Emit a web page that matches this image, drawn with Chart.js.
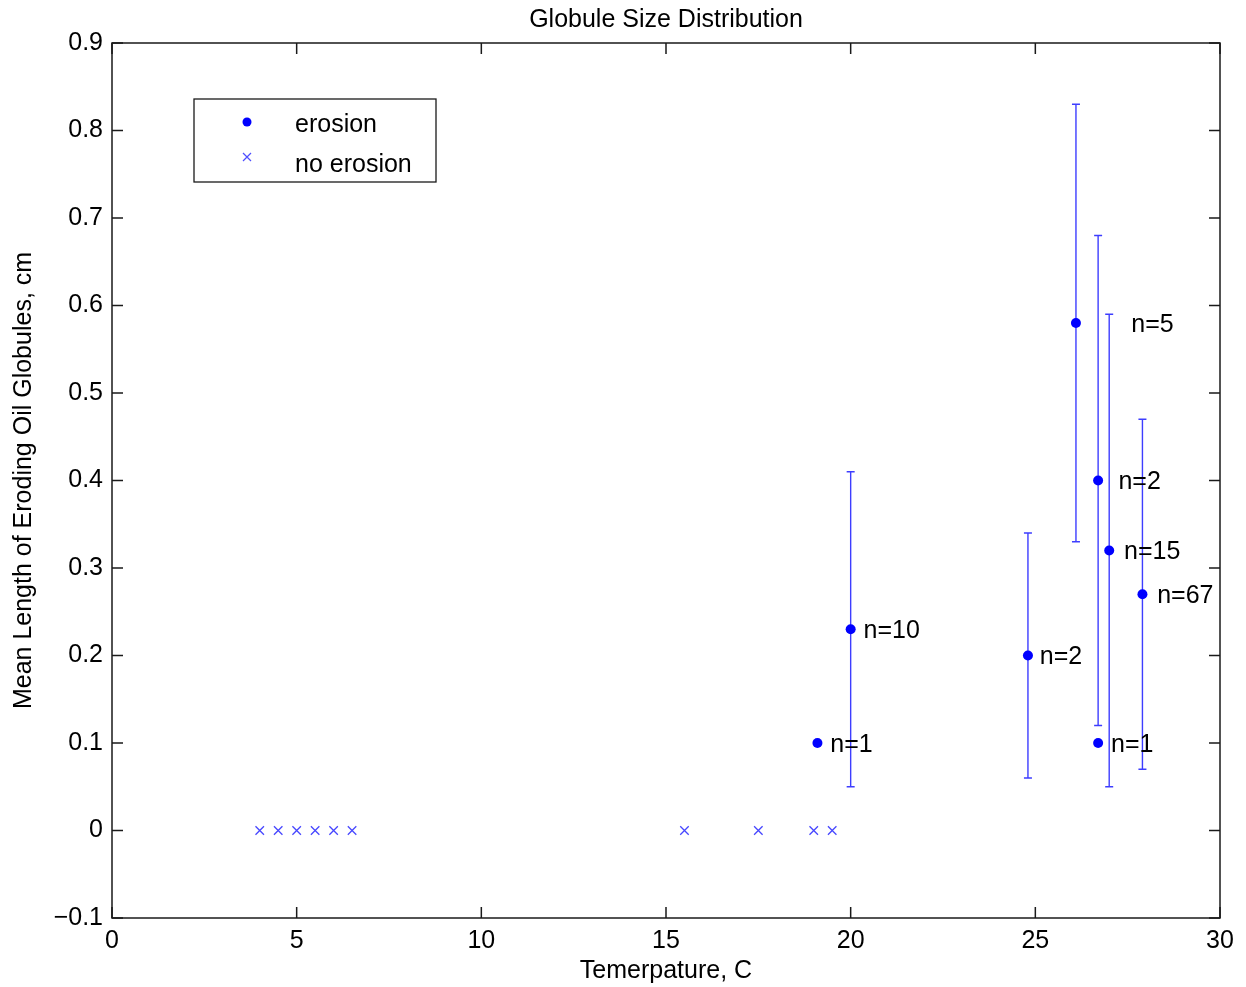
<!DOCTYPE html>
<html>
<head>
<meta charset="utf-8">
<script src="https://cdn.jsdelivr.net/npm/chart.js@4/dist/chart.umd.min.js"></script>
<style>
  html, body { margin: 0; padding: 0; background: #fff; }
  #wrap { width: 1246px; height: 987px; }
</style>
</head>
<body>
<div id="wrap"><canvas id="c" width="1246" height="987"></canvas></div>
<script>
// Eroding globules: temperature (C), mean length (cm), error-bar limits and sample counts
const erosionTemp  = [19.1, 20.0, 24.8, 26.1, 26.7, 26.7, 27.0, 27.9];
const erosionMean  = [0.10, 0.23, 0.20, 0.58, 0.40, 0.10, 0.32, 0.27];
const erosionUpper = [null, 0.41, 0.34, 0.83, 0.68, null, 0.59, 0.47];
const erosionLower = [null, 0.05, 0.06, 0.33, 0.12, null, 0.05, 0.07];
const sampleCounts = [1, 10, 2, 5, 2, 1, 15, 67];

// Runs without erosion
const noErosionTemp = [4.0, 4.5, 5.0, 5.5, 6.0, 6.5, 15.5, 17.5, 19.0, 19.5];
const noErosionMean = [0, 0, 0, 0, 0, 0, 0, 0, 0, 0];

// Axis tick values
const xTicks = [0, 5, 10, 15, 20, 25, 30];
const yTicks = [-0.1, 0, 0.1, 0.2, 0.3, 0.4, 0.5, 0.6, 0.7, 0.8, 0.9];

// Temperature at which each "n=" note starts
const noteTemp = [19.45, 20.35, 25.12, 27.6, 27.25, 27.05, 27.4, 28.3];

const FONT = "'Liberation Sans', Arial, Helvetica, sans-serif";
const FS = 25;
const BLUE = '#0000ff';

const erosionPoints = erosionTemp.map((t, i) => ({ x: t, y: erosionMean[i] }));
const noErosionPoints = noErosionTemp.map((t, i) => ({ x: t, y: noErosionMean[i] }));

function fmtTick(v) {
  const r = Math.round(v * 10) / 10;
  if (r === 0) return '0';
  const s = Math.abs(r) % 1 === 0 ? String(Math.abs(r)) : Math.abs(r).toFixed(1);
  return (r < 0 ? '\u2212' : '') + s;
}

// Error bars under the markers
const errorBars = {
  id: 'errorBars',
  beforeDatasetsDraw(chart) {
    const { ctx, scales: { x, y } } = chart;
    ctx.save();
    ctx.strokeStyle = 'rgba(40,40,255,0.9)';
    ctx.lineWidth = 1.4;
    erosionTemp.forEach((t, i) => {
      if (erosionUpper[i] == null) return;
      const px = x.getPixelForValue(t);
      const top = y.getPixelForValue(erosionUpper[i]);
      const bot = y.getPixelForValue(erosionLower[i]);
      ctx.beginPath();
      ctx.moveTo(px, top); ctx.lineTo(px, bot);
      ctx.moveTo(px - 4, top); ctx.lineTo(px + 4, top);
      ctx.moveTo(px - 4, bot); ctx.lineTo(px + 4, bot);
      ctx.stroke();
    });
    ctx.restore();
  }
};

// Axes box with inward ticks, sample-count notes and legend
const frame = {
  id: 'frame',
  afterDatasetsDraw(chart) {
    const { ctx, chartArea: a, scales: { x, y } } = chart;
    ctx.save();
    // n= notes
    ctx.fillStyle = '#000';
    ctx.font = FS + 'px ' + FONT;
    ctx.textAlign = 'left';
    ctx.textBaseline = 'middle';
    sampleCounts.forEach((n, i) => {
      ctx.fillText('n=' + n, x.getPixelForValue(noteTemp[i]), y.getPixelForValue(erosionMean[i]) + 2);
    });

    // box
    ctx.strokeStyle = '#1a1a1a';
    ctx.lineWidth = 1.5;
    ctx.strokeRect(a.left, a.top, a.right - a.left, a.bottom - a.top);
    // inward ticks
    const L = 11;
    ctx.beginPath();
    xTicks.forEach(v => {
      const px = x.getPixelForValue(v);
      ctx.moveTo(px, a.bottom); ctx.lineTo(px, a.bottom - L);
      ctx.moveTo(px, a.top); ctx.lineTo(px, a.top + L);
    });
    yTicks.forEach(v => {
      const py = y.getPixelForValue(v);
      ctx.moveTo(a.left, py); ctx.lineTo(a.left + L, py);
      ctx.moveTo(a.right, py); ctx.lineTo(a.right - L, py);
    });
    ctx.stroke();

    // legend
    const lx = 194, ly = 99, lw = 242, lh = 83;
    ctx.fillStyle = '#fff';
    ctx.fillRect(lx, ly, lw, lh);
    ctx.strokeStyle = '#1a1a1a';
    ctx.lineWidth = 1.3;
    ctx.strokeRect(lx, ly, lw, lh);
    ctx.fillStyle = BLUE;
    ctx.beginPath();
    ctx.arc(247, 122, 4.5, 0, Math.PI * 2);
    ctx.fill();
    ctx.strokeStyle = 'rgba(60,60,255,0.9)';
    ctx.lineWidth = 1.2;
    ctx.beginPath();
    ctx.moveTo(243, 153); ctx.lineTo(251, 161);
    ctx.moveTo(251, 153); ctx.lineTo(243, 161);
    ctx.stroke();
    ctx.fillStyle = '#000';
    ctx.font = FS + 'px ' + FONT;
    ctx.textBaseline = 'middle';
    ctx.fillText('erosion', 295, 125);
    ctx.fillText('no erosion', 295, 165);
    ctx.restore();
  }
};

new Chart(document.getElementById('c'), {
  type: 'scatter',
  data: {
    datasets: [
      {
        label: 'erosion',
        data: erosionPoints,
        pointStyle: 'circle',
        pointRadius: 5,
        pointHoverRadius: 5,
        backgroundColor: BLUE,
        borderColor: BLUE,
        borderWidth: 0
      },
      {
        label: 'no erosion',
        data: noErosionPoints,
        pointStyle: 'crossRot',
        pointRadius: 6,
        pointHoverRadius: 6,
        borderColor: 'rgba(50,50,255,0.9)',
        backgroundColor: 'rgba(50,50,255,0.9)',
        borderWidth: 1.3
      }
    ]
  },
  options: {
    responsive: false,
    animation: false,
    events: [],
    layout: { padding: { left: 0, right: 26, top: 0, bottom: 0 } },
    plugins: {
      legend: { display: false },
      tooltip: { enabled: false },
      title: {
        display: true,
        text: 'Globule Size Distribution',
        color: '#000',
        fullSize: false,
        font: { family: FONT, size: FS, weight: 'normal', lineHeight: 1.2 },
        padding: { top: 5, bottom: 8 }
      }
    },
    scales: {
      x: {
        type: 'linear',
        min: 0, max: 30,
        afterBuildTicks(s) { s.ticks = xTicks.map(v => ({ value: v })); },
        afterFit(s) { s.height = 69; },
        grid: { display: false, drawTicks: false },
        border: { display: false },
        ticks: {
          color: '#000',
          padding: 8,
          maxRotation: 0,
          font: { family: FONT, size: FS },
          callback: v => fmtTick(v)
        },
        title: {
          display: true,
          text: 'Temerpature, C',
          color: '#000',
          font: { family: FONT, size: FS, lineHeight: 1.2 },
          padding: { top: 0, bottom: 1 }
        }
      },
      y: {
        type: 'linear',
        min: -0.1, max: 0.9,
        afterBuildTicks(s) { s.ticks = yTicks.map(v => ({ value: v })); },
        afterFit(s) { s.width = 112; },
        grid: { display: false, drawTicks: false },
        border: { display: false },
        ticks: {
          color: '#000',
          padding: 9,
          font: { family: FONT, size: FS },
          callback: v => fmtTick(v)
        },
        title: {
          display: true,
          text: 'Mean Length of Eroding Oil Globules, cm',
          color: '#000',
          font: { family: FONT, size: FS, lineHeight: 1.2 },
          padding: { top: 9, bottom: 0 }
        }
      }
    }
  },
  plugins: [errorBars, frame]
});
</script>
</body>
</html>
